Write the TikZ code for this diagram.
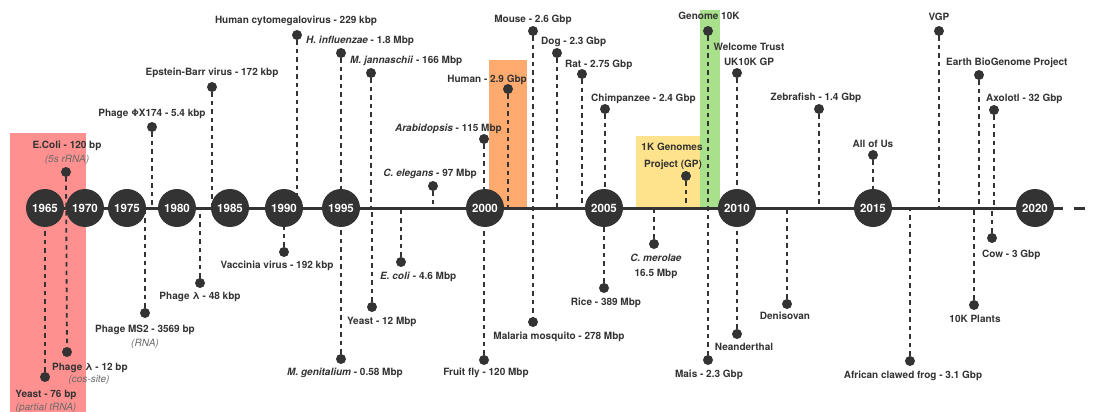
\documentclass[tikz,border=0pt]{standalone}
\usepackage{fontspec}
\setmainfont{TeX Gyre Heros}
\pgfdeclarelayer{bg}
\pgfdeclarelayer{lines}
\pgfsetlayers{bg,lines,main}
\definecolor{dk}{HTML}{333333}
\definecolor{subgray}{HTML}{6A6A6A}
\definecolor{pinkbox}{HTML}{FF9090}
\definecolor{orangebox}{HTML}{FFAA6E}
\definecolor{yellowbox}{HTML}{FFE38C}
\definecolor{greenbox}{HTML}{A9E08C}
\begin{document}
\begin{tikzpicture}[x=1pt,y=-1pt,
 year/.style={circle,fill=dk,minimum size=38pt,inner sep=0pt,text=white,font=\fontsize{11.5}{12}\selectfont\bfseries},
 dot/.style={circle,fill=dk,minimum size=10pt,inner sep=0pt},
 lbl/.style={font=\fontsize{10}{12}\selectfont\bfseries,text=dk,inner sep=0pt,anchor=base},
 sub/.style={font=\fontsize{10}{12}\selectfont\itshape,text=subgray,inner sep=0pt,anchor=base},
 dline/.style={dk,line width=1.8pt,dash pattern=on 4.5pt off 4pt},
 axisline/.style={dk,line width=3pt}]
\useasboundingbox (0,0) rectangle (1093,412);
\coordinate (ax) at (0,208);
\coordinate (axR) at (1063,208);
\coordinate (axD1) at (1074,208);
\coordinate (axD2) at (1085,208);

% highlight boxes
\begin{pgfonlayer}{bg}
\fill[pinkbox] (10,133) rectangle (86,412);
\fill[orangebox] (489,60) rectangle (527,208);
\fill[yellowbox] (636,136) rectangle (700,208);
\fill[greenbox] (700,10) rectangle (720,210);
\end{pgfonlayer}

% axis
\draw[axisline] (45,208) -- (axR);
\draw[axisline] (axD1) -- (axD2);

% years
\node[year] (y1965) at (45,208) {1965};
\node[year] (y1970) at (85,208) {1970};
\node[year] (y1975) at (127,208) {1975};
\node[year] (y1980) at (177,208) {1980};
\node[year] (y1985) at (230,208) {1985};
\node[year] (y1990) at (284,208) {1990};
\node[year] (y1995) at (341,208) {1995};
\node[year] (y2000) at (485,208) {2000};
\node[year] (y2005) at (604,208) {2005};
\node[year] (y2010) at (737,208) {2010};
\node[year] (y2015) at (873,208) {2015};
\node[year] (y2020) at (1035,208) {2020};

% dots
\node[dot] (ecoli) at (66,172) {};
\node[dot] (yeast76) at (45,377) {};
\node[dot] (phage12) at (67,352) {};
\node[dot] (ms2) at (145,313) {};
\node[dot] (phix) at (152,127) {};
\node[dot] (lam48) at (200,283) {};
\node[dot] (ebv) at (212,87) {};
\node[dot] (hcmv) at (297,35) {};
\node[dot] (vacc) at (284,252) {};
\node[dot] (hinf) at (341,53) {};
\node[dot] (mgen) at (341,359) {};
\node[dot] (mjan) at (371,73) {};
\node[dot] (yeast12) at (372,307) {};
\node[dot] (ecoli46) at (401,262) {};
\node[dot] (celeg) at (433,186) {};
\node[dot] (arab) at (484,139) {};
\node[dot] (ffly) at (484,360) {};
\node[dot] (human) at (508,89) {};
\node[dot] (mouse) at (533,31) {};
\node[dot] (malaria) at (533,322) {};
\node[dot] (dog) at (557,53) {};
\node[dot] (rat) at (582,74) {};
\node[dot] (chimp) at (605,109) {};
\node[dot] (rice) at (604,288) {};
\node[dot] (merolae) at (654,244) {};
\node[dot] (kgp) at (686,176) {};
\node[dot] (gtenk) at (708,31) {};
\node[dot] (mais) at (708,360) {};
\node[dot] (uktenk) at (737,73) {};
\node[dot] (neand) at (737,334) {};
\node[dot] (deni) at (787,304) {};
\node[dot] (zebra) at (819,109) {};
\node[dot] (allofus) at (873,155) {};
\node[dot] (frog) at (910,361) {};
\node[dot] (vgp) at (939,31) {};
\node[dot] (ebp) at (979,75) {};
\node[dot] (plants) at (974,305) {};
\node[dot] (axo) at (994,110) {};
\node[dot] (cow) at (992,238) {};

% dashed connectors
\begin{pgfonlayer}{lines}
\draw[dline] (ecoli) -- (phage12);
\draw[dline] (mouse) -- (malaria);
\draw[dline] (gtenk) -- (mais);
\foreach \d in {yeast76,ms2,phix,lam48,ebv,hcmv,vacc,hinf,mgen,mjan,yeast12,ecoli46,celeg,arab,ffly,human,dog,rat,chimp,rice,merolae,kgp,uktenk,neand,deni,zebra,allofus,frog,vgp,ebp,plants,axo,cow}
  \draw[dline] (\d) -- (\d |- ax);
\end{pgfonlayer}

% labels above
\node[lbl] (tEcoli) at (67,148) {E.Coli - 120 bp};
\node[sub] (tEcoliS) at (67,162) {(5s rRNA)};
\node[lbl] (tPhix) at (152,117) {Phage ΦX174 - 5.4 kbp};
\node[lbl] (tEbv) at (212,76) {Epstein-Barr virus - 172 kbp};
\node[lbl] (tHcmv) at (296,24) {Human cytomegalovirus - 229 kbp};
\node[lbl,anchor=base west] (tHinf) at (306,44) {\textit{H. influenzae} - 1.8 Mbp};
\node[lbl,anchor=base west] (tMjan) at (350,64) {\textit{M. jannaschii} - 166 Mbp};
\node[lbl,anchor=base east] (tArab) at (502,131) {\textit{Arabidopsis} - 115 Mbp};
\node[lbl,anchor=base east] (tCeleg) at (477,176) {\textit{C. elegans} - 97 Mbp};
\node[lbl,anchor=base east] (tHuman) at (527,83) {Human - 2.9 Gbp};
\node[lbl] (tMouse) at (533,23) {Mouse - 2.6 Gbp};
\node[lbl,anchor=base west] (tDog) at (541,45) {Dog - 2.3 Gbp};
\node[lbl,anchor=base west] (tRat) at (565,67) {Rat - 2.75 Gbp};
\node[lbl,anchor=base west] (tChimp) at (591,101) {Chimpanzee - 2.4 Gbp};
\node[lbl] (tKgpA) at (672,150) {1K Genomes};
\node[lbl] (tKgpB) at (673,167) {Project (GP)};
\node[lbl] (tGtenk) at (709,20) {Genome 10K};
\node[lbl] (tUkA) at (749,51) {Welcome Trust};
\node[lbl] (tUkB) at (749,66) {UK10K GP};
\node[lbl] (tZebra) at (816,100) {Zebrafish - 1.4 Gbp};
\node[lbl] (tAll) at (873,147) {All of Us};
\node[lbl] (tVgp) at (939,21) {VGP};
\node[lbl,anchor=base west] (tEbp) at (946,66) {Earth BioGenome Project};
\node[lbl,anchor=base west] (tAxo) at (986,102) {Axolotl - 32 Gbp};

% labels below
\node[lbl] (tYeast76) at (46,397) {Yeast - 76 bp};
\node[sub] (tYeast76S) at (46,410) {(partial tRNA)};
\node[lbl,anchor=base west] (tPhage12) at (52,370) {Phage λ - 12 bp};
\node[sub] (tPhage12S) at (89,382) {(cos-site)};
\node[lbl] (tMs2) at (145,332) {Phage MS2 - 3569 bp};
\node[sub] (tMs2S) at (145,346) {(RNA)};
\node[lbl] (tLam48) at (200,299) {Phage λ - 48 kbp};
\node[lbl] (tVacc) at (277,268) {Vaccinia virus - 192 kbp};
\node[lbl,anchor=base west] (tYeast12) at (347,324) {Yeast - 12 Mbp};
\node[lbl,anchor=base west] (tEcoli46) at (380,279) {\textit{E. coli} - 4.6 Mbp};
\node[lbl] (tMgen) at (345,375) {\textit{M. genitalium} - 0.58 Mbp};
\node[lbl] (tFfly) at (486,375) {Fruit fly - 120 Mbp};
\node[lbl] (tMalaria) at (559,339) {Malaria mosquito - 278 Mbp};
\node[lbl] (tRice) at (606,305) {Rice - 389 Mbp};
\node[lbl] (tMerA) at (656,261) {\textit{C. merolae}};
\node[lbl] (tMerB) at (656,276) {16.5 Mbp};
\node[lbl] (tMais) at (709,377) {Mais - 2.3 Gbp};
\node[lbl] (tNeand) at (744,350) {Neanderthal};
\node[lbl] (tDeni) at (785,319) {Denisovan};
\node[lbl] (tFrog) at (913,378) {African clawed frog - 3.1 Gbp};
\node[lbl] (tPlants) at (975,322) {10K Plants};
\node[lbl,anchor=base west] (tCow) at (982,257) {Cow - 3 Gbp};
\end{tikzpicture}
\end{document}
